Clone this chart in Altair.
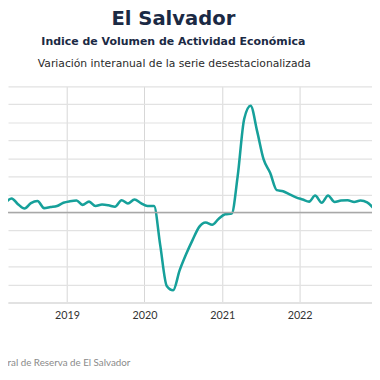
import altair as alt
import pandas as pd

FONT = "Lato"
TFONT = "DejaVu Sans"

title_main = "El Salvador"
title_sub = "Indice de Volumen de  Actividad Económica"
title_sub2 = "Variación interanual de la serie desestacionalizada"
source_text = "Fuente: Banco Central de Reserva de El Salvador"

# monthly observations (mid-month), Mar 2018 - Dec 2022
months = [d.strftime("%Y-%m-15") for d in pd.date_range("2018-03-01", "2022-12-01", freq="MS")]
values_2018 = [2.5, 3.9, 2.3, 1.1, 2.6, 3.2, 1.2, 1.5, 1.8, 2.7]
values_2019 = [3.1, 3.3, 2.1, 3.0, 1.8, 2.2, 2.0, 1.6, 3.4, 2.5, 3.6, 2.6]
values_2020 = [1.8, 1.8, -9.0, -20.4, -21.6, -16.0, -11.6, -7.6, -4.0, -2.8, -3.4, -1.8]
values_2021 = [-0.5, -0.3, 10.0, 26.0, 29.6, 22.5, 14.8, 11.0, 6.2, 5.9, 5.0, 4.2]
values_2022 = [3.6, 3.0, 4.7, 2.7, 4.7, 2.9, 3.3, 3.4, 2.9, 3.3, 2.8, 1.2]
values = values_2018 + values_2019 + values_2020 + values_2021 + values_2022

y_ticks = list(range(-25, 36, 5))

df = pd.DataFrame({"fecha": months, "valor": values})

x_scale = alt.Scale(
    type="utc",
    domain=[alt.DateTime(year=2018, month=3, date=29, utc=True),
            alt.DateTime(year=2022, month=12, date=8, utc=True)],
)
y_scale = alt.Scale(domain=[-25, 35], nice=False, zero=False)
y_axis = alt.Axis(values=y_ticks, labels=False, ticks=False, domain=False,
                  gridColor="#e2e2e2", gridWidth=1.2, title=None)

line = alt.Chart(df).mark_line(
    color="#16a09a", strokeWidth=2.6, interpolate="monotone", clip=True
).encode(
    x=alt.X("fecha:T", scale=x_scale, title=None,
            axis=alt.Axis(format="%Y", formatType="utc", tickCount="year", grid=True,
                          gridColor="#d6d6d6", ticks=False, domainColor="#e2e2e2",
                          domainWidth=2, labelPadding=7, labelFontSize=11,
                          labelColor="#333333", labelFont=FONT, labelOverlap=False)),
    y=alt.Y("valor:Q", scale=y_scale, title=None, axis=y_axis),
)

zero = alt.Chart(pd.DataFrame({"valor": [0]})).mark_rule(color="#a8a8a8", strokeWidth=1.4).encode(
    y=alt.Y("valor:Q", scale=y_scale, title=None, axis=y_axis)
)

def text_layer(txt, x, y, size, weight, color, font, align="center"):
    return alt.Chart(pd.DataFrame({"t": [txt]})).mark_text(
        font=font, fontSize=size, fontWeight=weight, color=color, align=align, baseline="middle"
    ).encode(text="t:N", x=alt.value(x), y=alt.value(y))

t1 = text_layer(title_main, 169, -69, 20, "bold", "#1b2a44", TFONT)
t2 = text_layer(title_sub, 169, -45, 11.2, "bold", "#1b2a44", TFONT)
t3 = text_layer(title_sub2, 170, -23, 11, "normal", "#2a2a2a", TFONT)
src = text_layer(source_text, 125, 283, 10, "normal", "#8a8a8a", FONT, align="right")

chart = alt.layer(line, zero, t1, t2, t3, src).properties(
    width=372, height=221,
    autosize=alt.AutoSizeParams(type="none"),
    padding={"left": 0, "top": 76, "right": 0, "bottom": 70},
).configure_view(stroke=None)

chart.save("out.html", embed_options={"renderer": "svg", "actions": False})
